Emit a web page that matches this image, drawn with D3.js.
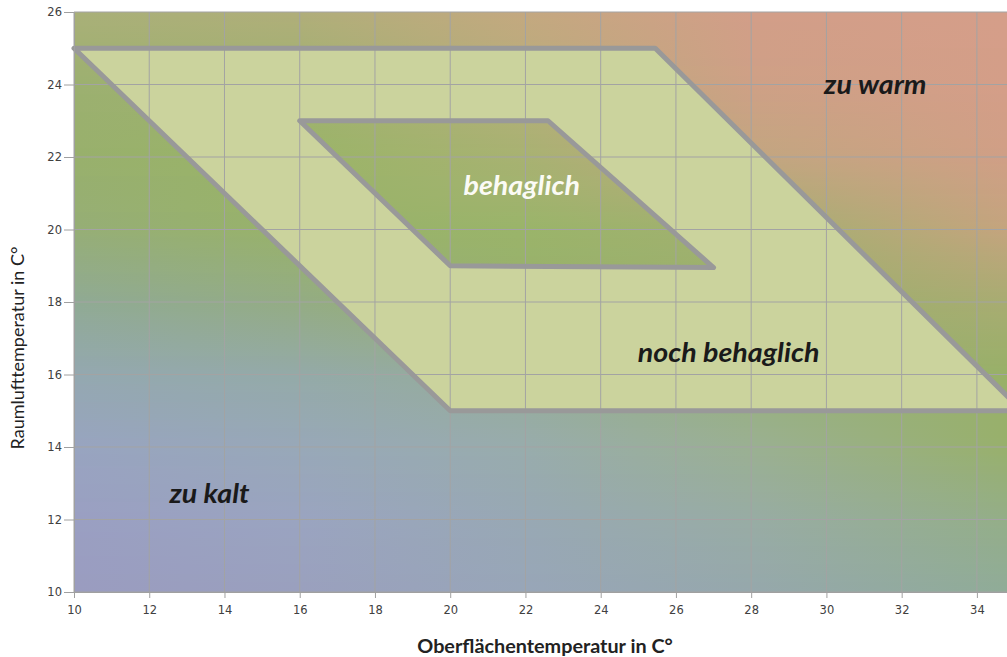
<!DOCTYPE html>
<html lang="de">
<head>
<meta charset="UTF-8">
<title>Behaglichkeitsfeld</title>
<script src="https://d3js.org/d3.v7.min.js"></script>
<style>
  body { margin: 0; background: #fff; }
  svg { display: block; }
  .tick text { font-family: "DejaVu Sans", sans-serif; font-size: 11.5px; fill: #404040; }
  .axis path, .axis line { stroke: #a0a0a0; }
  .grid line { stroke: #a3a3a3; stroke-width: 1; }
  .zone-fill { fill: #cbd39d; fill-rule: evenodd; }
  .zone-line { fill: none; stroke: #999; stroke-width: 5; stroke-linejoin: round; stroke-linecap: round; }
  .zone-label { font-family: Lato, sans-serif; font-weight: bold; font-style: italic; font-size: 26px; text-anchor: middle; }
  .axis-title { font-family: Lato, sans-serif; font-size: 18px; fill: #222; text-anchor: middle; }
</style>
</head>
<body>
<svg id="chart"></svg>
<script>
// ticks
const xTicks = [10, 12, 14, 16, 18, 20, 22, 24, 26, 28, 30, 32, 34];
const yTicks = [10, 12, 14, 16, 18, 20, 22, 24, 26];

// zones (Oberflächentemperatur, Raumlufttemperatur)
const outerZone = [[10, 25], [25.45, 25], [35.2, 15], [20, 15]];
const innerZone = [[16, 23], [22.6, 23], [27, 18.95], [20, 19]];

// labels
const zoneLabels = ["zu warm", "behaglich", "noch behaglich", "zu kalt"];
const labelX = [31.3, 21.9, 27.4, 13.6];
const labelY = [24.0, 21.2, 16.6, 12.7];
const labelColor = ["#1a1a1a", "#fbfbf5", "#1a1a1a", "#1a1a1a"];

const W = 1007, H = 657;
const margin = {top: 12, right: 0, bottom: 65, left: 74};

const svg = d3.select("#chart").attr("width", W).attr("height", H);

const x = d3.scaleLinear().domain([10, 34.8]).range([margin.left, W - margin.right]);
const y = d3.scaleLinear().domain([10, 26]).range([H - margin.bottom, margin.top]);

// background colour field: rows top->bottom (26..10), columns at 10,16,22,28,34.8
const bgCols = [10, 16, 22, 28, 34.8];
const bgGrid = [
  ["#a9b078", "#b0ae7a", "#c4a880", "#d29e88", "#d59e89"],
  ["#9cb070", "#a0b270", "#b6ae7a", "#cea086", "#d49e88"],
  ["#98b06c", "#9ab468", "#a8b272", "#c2a680", "#d09f86"],
  ["#96ae76", "#98b26a", "#9ab46a", "#a2b070", "#c4a47e"],
  ["#90aa94", "#94ac84", "#98b06c", "#9ab06c", "#a8ac72"],
  ["#94a8b0", "#94aaa8", "#96ac98", "#98b07c", "#98b068"],
  ["#98a4c0", "#98a8b8", "#98acac", "#9ab092", "#98b06c"],
  ["#9a9fc2", "#9aa4c0", "#98a8b4", "#98aca4", "#94ae88"],
  ["#9a9cc0", "#9aa0be", "#98a6b8", "#96a8ac", "#90ac98"]
];
const colInterp = bgCols.map((c, j) => d3.piecewise(d3.interpolateRgb, bgGrid.map(r => r[j])));

const defs = svg.append("defs");
const bg = svg.append("g").attr("shape-rendering", "crispEdges");
const x0 = x(10), x1 = x.range()[1], step = 2;
for (let py = y(26), k = 0; py < y(10); py += step, k++) {
  const t = (26 - y.invert(py + step / 2)) / 16;
  const g = defs.append("linearGradient").attr("id", "bg" + k);
  bgCols.forEach((c, j) => {
    g.append("stop")
      .attr("offset", (x(c) - x0) / (x1 - x0))
      .attr("stop-color", colInterp[j](Math.max(0, Math.min(1, t))));
  });
  bg.append("rect")
    .attr("x", x0).attr("y", py)
    .attr("width", x1 - x0)
    .attr("height", Math.min(step, y(10) - py))
    .attr("fill", `url(#bg${k})`);
}

// zone fill with hole
const line = d3.line().x(d => x(d[0])).y(d => y(d[1]));
svg.append("path")
    .attr("class", "zone-fill")
    .attr("d", line(outerZone) + "Z" + line(innerZone) + "Z");

// grid
const grid = svg.append("g").attr("class", "grid");
grid.selectAll(".v").data(xTicks).enter().append("line")
    .attr("x1", d => x(d)).attr("x2", d => x(d))
    .attr("y1", y(10)).attr("y2", y(26));
grid.selectAll(".h").data(yTicks).enter().append("line")
    .attr("x1", x(10)).attr("x2", x.range()[1])
    .attr("y1", d => y(d)).attr("y2", d => y(d));

// zone outlines
[outerZone, innerZone].forEach(z => {
  svg.append("path").attr("class", "zone-line").attr("d", line(z) + "Z");
});

// axes
svg.append("g")
    .attr("class", "axis")
    .attr("transform", `translate(0,${y(10)})`)
    .call(d3.axisBottom(x).tickValues(xTicks).tickSize(6).tickPadding(8).tickSizeOuter(0));
svg.append("g")
    .attr("class", "axis")
    .attr("transform", `translate(${x(10)},0)`)
    .call(d3.axisLeft(y).tickValues(yTicks).tickSize(10).tickPadding(2).tickSizeOuter(0));

// zone labels (slightly stretched like the original)
svg.selectAll(".zone-label").data(zoneLabels).enter().append("text")
    .attr("class", "zone-label")
    .attr("transform", (d, i) => `translate(${x(labelX[i])},${y(labelY[i])}) scale(1.1,1)`)
    .attr("dy", "0.35em")
    .attr("fill", (d, i) => labelColor[i])
    .text(d => d);

// axis titles
svg.append("text")
    .attr("class", "axis-title")
    .attr("transform", "translate(545,653) scale(1.1,1)")
    .style("font-weight", "bold")
    .text("Oberflächentemperatur in C°");
svg.append("text")
    .attr("class", "axis-title")
    .attr("transform", "translate(24,348) rotate(-90)")
    .text("Raumlufttemperatur in C°");
</script>
</body>
</html>
